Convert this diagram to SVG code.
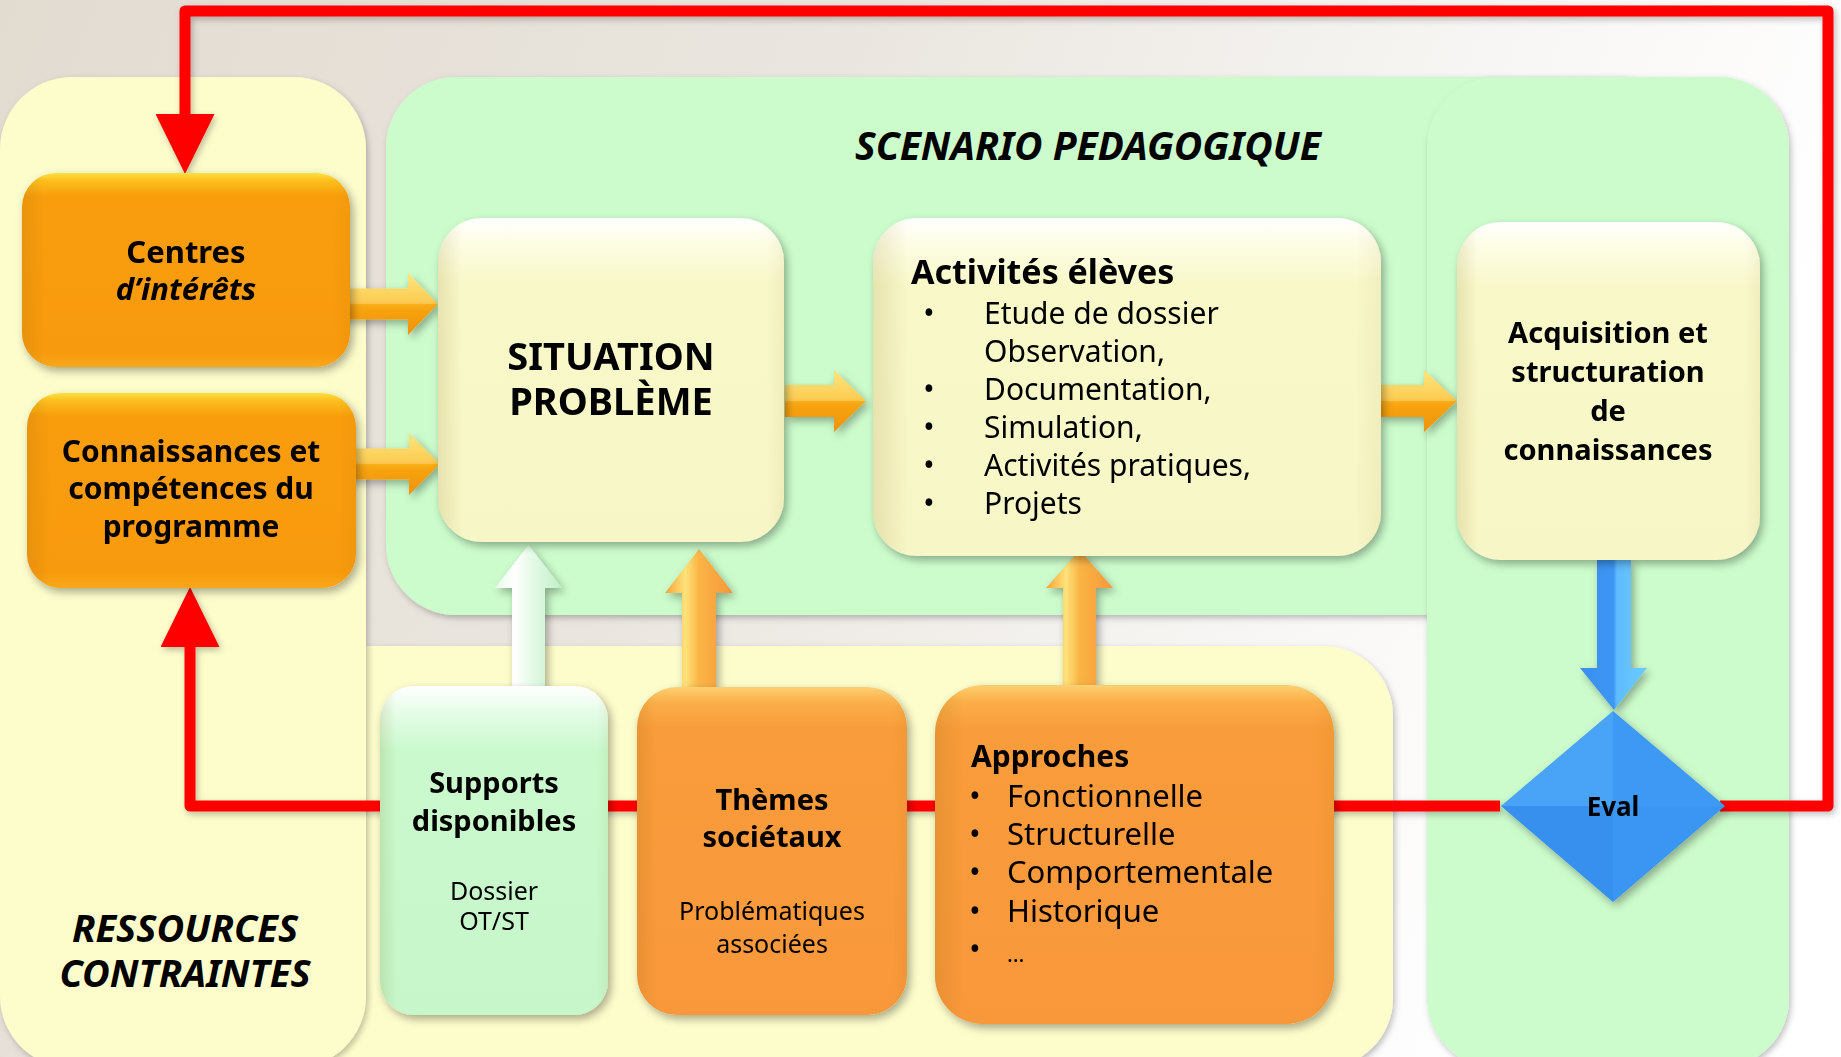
<svg xmlns="http://www.w3.org/2000/svg" width="1841" height="1057" viewBox="0 0 1841 1057">
<defs>
<style>
.t{font-family:"Noto Sans","DejaVu Sans",sans-serif;fill:#000}
.b{font-weight:bold}
.i{font-style:italic}
.m{text-anchor:middle}
.red{fill:none;stroke:#ff0000;stroke-width:11;stroke-linejoin:round}
</style>
<linearGradient id="bg" x1="0" y1="0" x2="1" y2="0.25">
<stop offset="0" stop-color="#e2dbd0"/>
<stop offset="0.45" stop-color="#eae6df"/>
<stop offset="0.8" stop-color="#f8f7f5"/>
<stop offset="1" stop-color="#ffffff"/>
</linearGradient>
<linearGradient id="gOrange" x1="0" y1="0" x2="0" y2="1">
<stop offset="0" stop-color="#ffe040"/>
<stop offset="0.04" stop-color="#fcbf1e"/>
<stop offset="0.12" stop-color="#f99d0c"/>
<stop offset="0.92" stop-color="#f89a0a"/>
<stop offset="1" stop-color="#f7a81e"/>
</linearGradient>
<linearGradient id="gSalmon" x1="0" y1="0" x2="0" y2="1">
<stop offset="0" stop-color="#fdd070"/>
<stop offset="0.05" stop-color="#fbae48"/>
<stop offset="0.13" stop-color="#f99c3a"/>
<stop offset="1" stop-color="#f8983a"/>
</linearGradient>
<linearGradient id="gCream" x1="0" y1="0" x2="0" y2="1">
<stop offset="0" stop-color="#ffffff"/>
<stop offset="0.08" stop-color="#fdfde4"/>
<stop offset="0.2" stop-color="#f8f8c9"/>
<stop offset="1" stop-color="#f7f6c6"/>
</linearGradient>
<linearGradient id="gMint" x1="0" y1="0" x2="0" y2="1">
<stop offset="0" stop-color="#ffffff"/>
<stop offset="0.08" stop-color="#e6fce8"/>
<stop offset="0.2" stop-color="#c9f9cc"/>
<stop offset="1" stop-color="#c6f6ca"/>
</linearGradient>
<linearGradient id="edge" x1="0" y1="0" x2="1" y2="0">
<stop offset="0" stop-color="#7a5a00" stop-opacity="0.13"/>
<stop offset="0.07" stop-color="#7a5a00" stop-opacity="0"/>
<stop offset="0.95" stop-color="#7a5a00" stop-opacity="0"/>
<stop offset="1" stop-color="#7a5a00" stop-opacity="0.06"/>
</linearGradient>
<linearGradient id="gArrH" x1="0" y1="0" x2="0" y2="1">
<stop offset="0" stop-color="#ffdf5a"/>
<stop offset="0.45" stop-color="#fcbf24"/>
<stop offset="0.55" stop-color="#f8a512"/>
<stop offset="1" stop-color="#f0920c"/>
</linearGradient>
<linearGradient id="gArrUp" x1="0" y1="0" x2="1" y2="0">
<stop offset="0" stop-color="#f9a23a"/>
<stop offset="0.3" stop-color="#ffe27a"/>
<stop offset="0.5" stop-color="#fab545"/>
<stop offset="1" stop-color="#f7963a"/>
</linearGradient>
<linearGradient id="gArrW" x1="0" y1="0" x2="1" y2="0">
<stop offset="0" stop-color="#e8fbea"/>
<stop offset="0.3" stop-color="#ffffff"/>
<stop offset="0.5" stop-color="#eafcec"/>
<stop offset="1" stop-color="#bfeec6"/>
</linearGradient>
<linearGradient id="gBlue" x1="0" y1="0" x2="1" y2="0">
<stop offset="0" stop-color="#3a8ff0"/>
<stop offset="0.5" stop-color="#3d96f3"/>
<stop offset="0.55" stop-color="#5fbcff"/>
<stop offset="1" stop-color="#6ccbff"/>
</linearGradient>
<filter id="sh" x="-15%" y="-15%" width="135%" height="135%">
<feDropShadow dx="3" dy="4" stdDeviation="4" flood-color="#000" flood-opacity="0.33"/>
</filter>
<filter id="shp" x="-5%" y="-5%" width="112%" height="112%">
<feDropShadow dx="2" dy="3" stdDeviation="3" flood-color="#000" flood-opacity="0.25"/>
</filter>
<marker id="redHead" markerUnits="userSpaceOnUse" viewBox="0 0 60 59" refX="0" refY="29.5" markerWidth="60" markerHeight="59" orient="auto">
<path d="M0,0 L60,29.5 L0,59 z" fill="#ff0000"/>
</marker>
</defs>

<rect x="0" y="0" width="1841" height="1057" fill="url(#bg)"/>

<g id="panels">
<rect id="panel-bottom" x="300" y="646" width="1093" height="422" rx="70" fill="#fdfccb" filter="url(#shp)"/>
<rect id="panel-scenario" x="386" y="77" width="1300" height="538" rx="70" fill="#ccfccc" filter="url(#shp)"/>
<rect id="panel-eval" x="1427" y="77" width="362" height="991" rx="70" fill="#ccfccc" filter="url(#shp)"/>
<rect id="panel-ressources" x="0" y="77" width="366" height="991" rx="72" fill="#fdfccb" filter="url(#shp)"/>
</g>

<g id="connectors">
<g filter="url(#shp)">
<path class="red" d="M1500,806 H190 V647" marker-end="url(#redHead)"/>
<path class="red" d="M1720,806 H1828 V11 H185 V114" marker-end="url(#redHead)"/>
</g>
<g filter="url(#sh)">
<polygon points="335,288.5 408,288.5 408,273 438,304 408,335 408,319.5 335,319.5" fill="url(#gArrH)"/>
<polygon points="337,448.5 409,448.5 409,433 440,464 409,495 409,479.5 337,479.5" fill="url(#gArrH)"/>
<polygon points="785,385 834,385 834,370 866,401 834,432 834,417 785,417" fill="url(#gArrH)"/>
<polygon points="1380,385 1424,385 1424,370 1457,401 1424,432 1424,417 1380,417" fill="url(#gArrH)"/>
<polygon points="512,687 512,588 495,588 528.5,545 562,588 545,588 545,687" fill="url(#gArrW)"/>
<polygon points="682,687 682,593 665,593 699,549 733,593 716,593 716,687" fill="url(#gArrUp)"/>
<polygon points="1063,687 1063,588 1046,588 1079.5,550 1113,588 1096,588 1096,687" fill="url(#gArrUp)"/>
<polygon points="1597,560 1631,560 1631,668 1647,668 1614,710 1580,668 1597,668" fill="url(#gBlue)"/>
</g>
<g fill="#ffffff" opacity="0.22">
<polygon points="335,288.5 408,288.5 408,273 438,304 335,304"/>
<polygon points="337,448.5 409,448.5 409,433 440,464 337,464"/>
<polygon points="785,385 834,385 834,370 866,401 785,401"/>
<polygon points="1380,385 1424,385 1424,370 1457,401 1380,401"/>
</g>
</g>

<g id="centres" filter="url(#sh)">
<rect x="22" y="173" width="328" height="194" rx="34" fill="url(#gOrange)"/>
<rect x="22" y="173" width="328" height="194" rx="34" fill="url(#edge)"/>
<text class="t b m" x="186" y="263" font-size="31">Centres</text>
<text class="t b i m" x="186" y="300" font-size="31">d’intérêts</text>
</g>

<g id="connaissances" filter="url(#sh)">
<rect x="27" y="393" width="329" height="195" rx="34" fill="url(#gOrange)"/>
<rect x="27" y="393" width="329" height="195" rx="34" fill="url(#edge)"/>
<text class="t b m" x="191" y="462" font-size="30">Connaissances et</text>
<text class="t b m" x="191" y="499" font-size="30">compétences du</text>
<text class="t b m" x="191" y="537" font-size="30">programme</text>
</g>

<g id="situation" filter="url(#sh)">
<rect x="438" y="218" width="346" height="324" rx="44" fill="url(#gCream)"/>
<rect x="438" y="218" width="346" height="324" rx="44" fill="url(#edge)"/>
<text class="t b m" x="611" y="370" font-size="38">SITUATION</text>
<text class="t b m" x="611" y="415" font-size="38">PROBLÈME</text>
</g>

<g id="activites" filter="url(#sh)">
<rect x="873" y="218" width="508" height="338" rx="44" fill="url(#gCream)"/>
<rect x="873" y="218" width="508" height="338" rx="44" fill="url(#edge)"/>
<text class="t b" x="911" y="284" font-size="34">Activités élèves</text>
<g class="t m" font-size="30">
<text x="929" y="324">•</text>
<text x="929" y="400">•</text>
<text x="929" y="438">•</text>
<text x="929" y="476">•</text>
<text x="929" y="514">•</text>
</g>
<g class="t" font-size="30">
<text x="984" y="324">Etude de dossier</text>
<text x="984" y="362">Observation,</text>
<text x="984" y="400">Documentation,</text>
<text x="984" y="438">Simulation,</text>
<text x="984" y="476">Activités pratiques,</text>
<text x="984" y="514">Projets</text>
</g>
</g>

<g id="acquisition" filter="url(#sh)">
<rect x="1457" y="222" width="303" height="338" rx="44" fill="url(#gCream)"/>
<rect x="1457" y="222" width="303" height="338" rx="44" fill="url(#edge)"/>
<text class="t b m" x="1608" y="343" font-size="29">Acquisition et</text>
<text class="t b m" x="1608" y="382" font-size="29">structuration</text>
<text class="t b m" x="1608" y="421" font-size="29">de</text>
<text class="t b m" x="1608" y="460" font-size="29">connaissances</text>
</g>

<g id="supports" filter="url(#sh)">
<rect x="380" y="686" width="228" height="329" rx="34" fill="url(#gMint)"/>
<rect x="380" y="686" width="228" height="329" rx="34" fill="url(#edge)"/>
<text class="t b m" x="494" y="793" font-size="29">Supports</text>
<text class="t b m" x="494" y="831" font-size="29">disponibles</text>
<text class="t m" x="494" y="900" font-size="25">Dossier</text>
<text class="t m" x="494" y="930" font-size="25">OT/ST</text>
</g>

<g id="themes" filter="url(#sh)">
<rect x="637" y="687" width="270" height="328" rx="40" fill="url(#gSalmon)"/>
<rect x="637" y="687" width="270" height="328" rx="40" fill="url(#edge)"/>
<text class="t b m" x="772" y="810" font-size="29">Thèmes</text>
<text class="t b m" x="772" y="847" font-size="29">sociétaux</text>
<text class="t m" x="772" y="920" font-size="25">Problématiques</text>
<text class="t m" x="772" y="953" font-size="25">associées</text>
</g>

<g id="approches" filter="url(#sh)">
<rect x="935" y="685" width="399" height="339" rx="48" fill="url(#gSalmon)"/>
<rect x="935" y="685" width="399" height="339" rx="48" fill="url(#edge)"/>
<text class="t b" x="971" y="767" font-size="30">Approches</text>
<g class="t m" font-size="30">
<text x="975" y="807">•</text>
<text x="975" y="845">•</text>
<text x="975" y="883">•</text>
<text x="975" y="922">•</text>
<text x="975" y="960">•</text>
</g>
<g class="t" font-size="31">
<text x="1007" y="807">Fonctionnelle</text>
<text x="1007" y="845">Structurelle</text>
<text x="1007" y="883">Comportementale</text>
<text x="1007" y="922">Historique</text>
<text x="1007" y="962" font-size="22">…</text>
</g>
</g>

<g id="eval" filter="url(#sh)">
<polygon points="1501,806 1613,711 1613,806" fill="#4aa3f7"/>
<polygon points="1613,711 1725,806 1613,806" fill="#3c99f4"/>
<polygon points="1501,806 1613,806 1613,902" fill="#3890ee"/>
<polygon points="1613,806 1725,806 1613,902" fill="#3a95f2"/>
<text class="t b m" x="1613" y="816" font-size="26">Eval</text>
</g>

<g id="titles">
<text class="t b i m" x="1088" y="160" font-size="39">SCENARIO PEDAGOGIQUE</text>
<text class="t b i m" x="185" y="942" font-size="38">RESSOURCES</text>
<text class="t b i m" x="185" y="987" font-size="38">CONTRAINTES</text>
</g>
</svg>
